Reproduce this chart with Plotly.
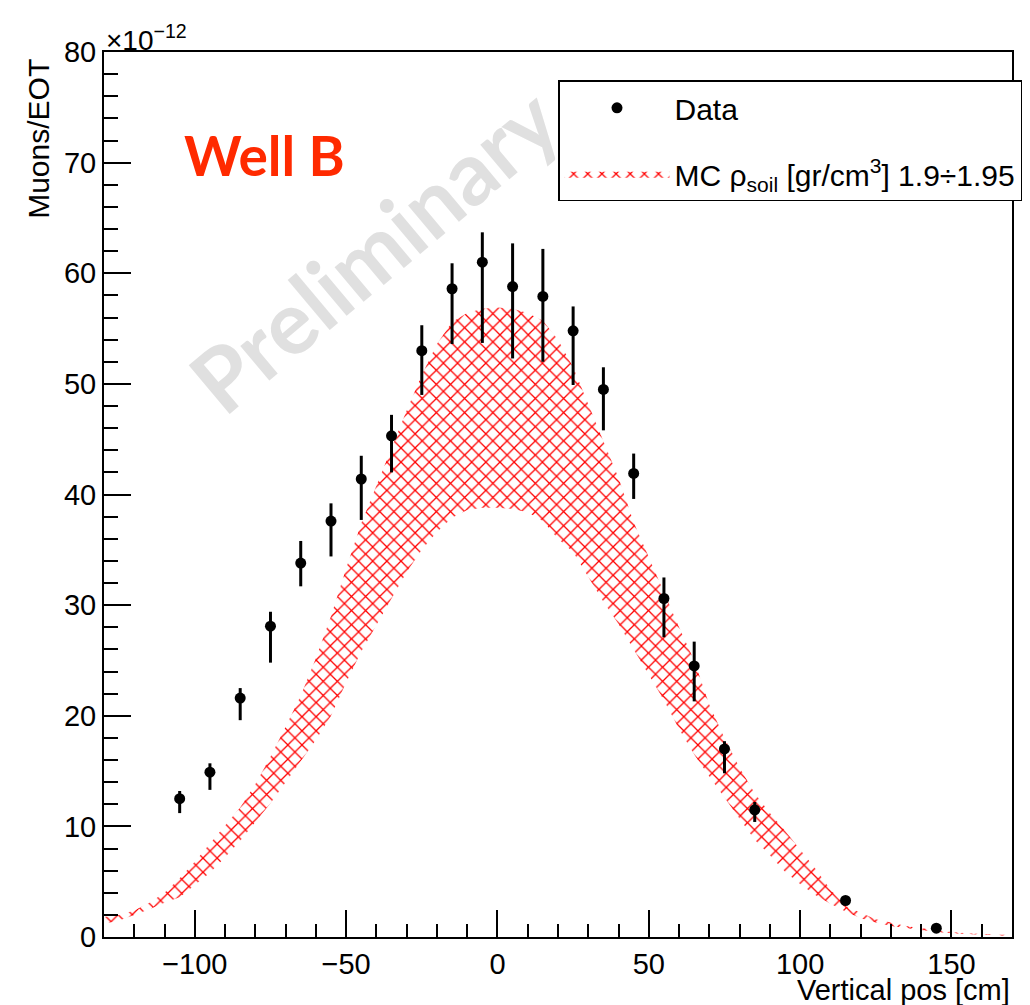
import plotly.graph_objects as go

# ---- Data (values in units of 1e-12 Muons/EOT) ----
data_x = [-105, -95, -85, -75, -65, -55, -45, -35, -25, -15, -5, 5, 15, 25, 35, 45, 55, 65, 75, 85, 115, 145]
data_y = [12.5, 14.9, 21.6, 28.1, 33.8, 37.6, 41.4, 45.3, 53.0, 58.6, 61.0, 58.8, 57.9, 54.8, 49.5, 41.9, 30.6, 24.5, 17.0, 11.5, 3.3, 0.8]
err_up = [0.7, 0.8, 0.9, 1.3, 2.0, 1.6, 2.1, 1.9, 2.3, 2.3, 2.7, 3.9, 4.3, 2.2, 2.0, 1.8, 1.9, 2.2, 0.7, 0.7, 0.3, 0.2]
err_dn = [1.3, 1.6, 2.0, 3.3, 2.1, 3.2, 3.7, 3.3, 4.0, 5.0, 7.3, 6.5, 5.9, 4.9, 3.7, 2.3, 3.5, 3.2, 2.2, 1.1, 0.3, 0.2]

mc_x = [-130, -125, -120, -115, -110, -105, -100, -95, -90, -85, -80, -75, -70, -65, -60, -55, -50, -45, -40, -35,
        -30, -25, -20, -15, -10, -5, 0, 5, 10, 15, 20, 25, 30, 35, 40, 45, 50, 55, 60, 65,
        70, 75, 80, 85, 90, 95, 100, 105, 110, 115, 120, 125, 130, 135, 140, 145, 150, 155, 160, 165, 170]
mc_lo = [1.2, 1.5, 2.0, 2.5, 3.1, 3.6, 4.7, 5.8, 7.2, 8.7, 10.4, 12.1, 14.0, 15.9, 17.8, 20.0, 23.0, 25.8, 28.2, 30.5,
         33.0, 35.0, 36.6, 37.9, 38.6, 38.8, 38.8, 38.7, 38.4, 37.6, 36.0, 34.8, 32.6, 30.3, 28.3, 26.0, 23.8, 21.4, 18.8, 16.5,
         14.5, 12.6, 10.6, 8.8, 7.4, 5.9, 4.8, 3.8, 3.0, 2.3, 1.7, 1.3, 1.0, 0.8, 0.6, 0.45, 0.35, 0.25, 0.2, 0.15, 0.1]
mc_hi = [1.8, 2.0, 2.4, 3.1, 4.0, 5.3, 6.8, 8.4, 10.0, 11.7, 13.8, 16.3, 19.0, 21.8, 25.2, 29.0, 33.3, 37.4, 40.8, 44.2,
         47.6, 50.8, 53.6, 55.6, 56.4, 56.8, 56.9, 56.8, 56.4, 55.7, 54.0, 51.5, 48.2, 44.9, 41.5, 37.5, 34.3, 31.2, 28.0, 25.0,
         21.0, 18.0, 15.3, 13.0, 11.2, 9.6, 7.9, 6.2, 4.3, 2.8, 2.2, 1.6, 1.3, 1.0, 0.8, 0.6, 0.45, 0.35, 0.25, 0.2, 0.2]

x_ticks = [-100, -50, 0, 50, 100, 150]
x_ticklabels = ["\u2212100", "\u221250", "0", "50", "100", "150"]
y_ticks = [0, 10, 20, 30, 40, 50, 60, 70, 80]

FONT = "Liberation Sans, Arial, Helvetica, sans-serif"

fig = go.Figure()

# MC band: lower edge, then upper edge filled to it
fig.add_trace(go.Scatter(
    x=mc_x, y=mc_lo, mode="lines", line=dict(width=0, color="red"),
    showlegend=False, hoverinfo="skip"))
fig.add_trace(go.Scatter(
    x=mc_x, y=mc_hi, mode="lines", line=dict(width=0, color="red"),
    fill="tonexty", fillcolor="rgba(0,0,0,0)",
    fillpattern=dict(shape="x", fgcolor="#ff0000", fgopacity=1, bgcolor="rgba(255,255,255,0)",
                     size=10, solidity=0.24),
    name="MC \u03c1<sub>soil</sub> [gr/cm<sup>3</sup>] 1.9\u00f71.95",
    legendgroup="mc", legendrank=2))

# Data points
fig.add_trace(go.Scatter(
    x=data_x, y=data_y, mode="markers",
    marker=dict(color="black", size=11, symbol="circle"),
    error_y=dict(type="data", symmetric=False, array=err_up, arrayminus=err_dn,
                 color="black", thickness=3, width=0),
    name="Data", legendgroup="data", legendrank=1))

# The page body adds an 8px margin, so the figure is 8px smaller and margins compensate.
fig.update_layout(
    width=1022, height=997,
    paper_bgcolor="white", plot_bgcolor="white",
    margin=dict(l=96, r=18, t=44, b=68, autoexpand=False),
    font=dict(family=FONT, size=30, color="black"),
    showlegend=True,
    legend=dict(
        x=0.5, y=0.968, xanchor="left", yanchor="top",
        bgcolor="white", bordercolor="black", borderwidth=1.5,
        font=dict(family=FONT, size=30, color="black"),
        traceorder="grouped", tracegroupgap=24, itemwidth=105,
    ),
    xaxis=dict(
        range=[-130, 170], showgrid=False, zeroline=False,
        showline=True, linecolor="black", linewidth=2, mirror=True,
        ticks="inside", ticklen=27, tickwidth=2, tickcolor="black",
        tickvals=x_ticks, ticktext=x_ticklabels,
        tickfont=dict(family=FONT, size=29),
        minor=dict(ticks="inside", ticklen=13, tickwidth=2, tickcolor="black", dtick=10, showgrid=False),
    ),
    yaxis=dict(
        range=[0, 80], showgrid=False, zeroline=False,
        showline=True, linecolor="black", linewidth=2, mirror=True,
        ticks="inside", ticklen=27, tickwidth=2, tickcolor="black",
        tickvals=y_ticks,
        tickfont=dict(family=FONT, size=29),
        minor=dict(ticks="inside", ticklen=14, tickwidth=2, tickcolor="black", dtick=2, showgrid=False),
    ),
)

annotations = [
    # Preliminary watermark (first so it sits below other annotations)
    dict(text="<b>Preliminary</b>", xref="x", yref="y", x=-41, y=62.2,
         xanchor="center", yanchor="middle", showarrow=False, textangle=-40,
         font=dict(family="Lato, sans-serif", size=88, color="#e0e0e0")),
    # exponent
    dict(text="\u00d710<sup>\u221212</sup>", xref="paper", yref="paper", x=0.0, y=1.0,
         xanchor="left", yanchor="bottom", showarrow=False, yshift=-6,
         font=dict(family=FONT, size=28, color="black")),
    # y title
    dict(text="Muons/EOT", xref="paper", yref="paper", x=0.0, y=0.994,
         xanchor="right", yanchor="top", textangle=-90, showarrow=False, xshift=-47,
         font=dict(family=FONT, size=30, color="black")),
    # x title
    dict(text="Vertical pos [cm]", xref="paper", yref="paper", x=1.0, y=0.0,
         xanchor="right", yanchor="top", showarrow=False, yshift=-35,
         font=dict(family=FONT, size=29, color="black")),
    # Well B label
    dict(text="<b>Well B</b>", xref="x", yref="y", x=-77, y=70.7,
         xanchor="center", yanchor="middle", showarrow=False,
         font=dict(family="Lato, sans-serif", size=55, color="#ff2a00")),
]
fig.update_layout(annotations=annotations)

fig.write_html("out.html")
